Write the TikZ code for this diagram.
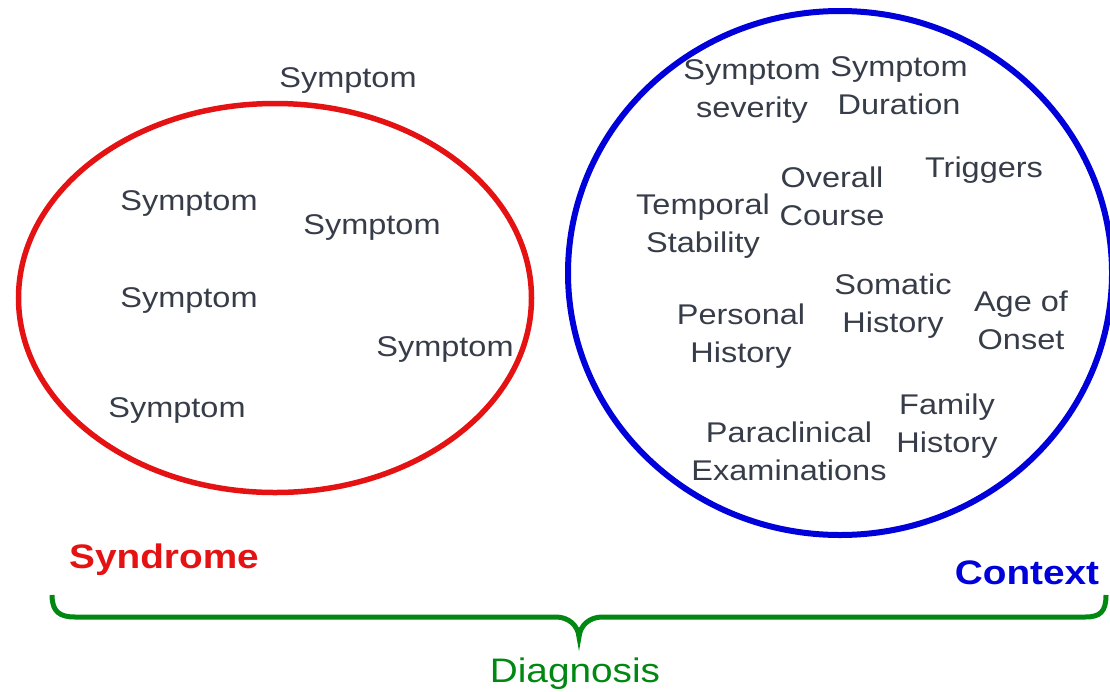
\documentclass[tikz,border=0pt]{standalone}
\usepackage{fontspec}
\usepackage{graphicx}
\setmainfont{Liberation Sans}
\usetikzlibrary{shapes.geometric}
\definecolor{txtgray}{RGB}{55,61,72}
\definecolor{synred}{RGB}{228,18,18}
\definecolor{ctxblue}{RGB}{0,0,218}
\definecolor{dxgreen}{RGB}{0,136,18}
\newcommand{\stx}[1]{\scalebox{1.14}[1]{\begin{tabular}{@{}c@{}}#1\end{tabular}}}
\tikzset{
  item/.style={inner sep=0pt, text=txtgray, font=\fontsize{28.5}{37.5}\selectfont},
  biglabel/.style={inner sep=0pt, font=\fontsize{34}{40.8}\selectfont},
  ring/.style={draw, ellipse, inner sep=0pt},
}
\begin{document}
\begin{tikzpicture}[x=1pt,y=-1pt]
\useasboundingbox (0,0) rectangle (1110,691);
% ellipses
\node[ring, draw=synred, line width=5.5pt, minimum width=513pt, minimum height=389pt] (syndrome) at (275,298) {};
\node[ring, draw=ctxblue, line width=6pt, minimum width=544pt, minimum height=524pt] (context) at (840,273) {};
% symptoms
\node[item] (s1) at (348,80) {\stx{Symptom}};
\node[item] (s2) at (189,203) {\stx{Symptom}};
\node[item] (s3) at (372,227) {\stx{Symptom}};
\node[item] (s4) at (189,300) {\stx{Symptom}};
\node[item] (s5) at (445,349) {\stx{Symptom}};
\node[item] (s6) at (177,410) {\stx{Symptom}};
% context items
\node[item] (sev) at (752,91) {\stx{Symptom\\severity}};
\node[item] (dur) at (899,88) {\stx{Symptom\\Duration}};
\node[item] (trig) at (984,170) {\stx{Triggers}};
\node[item] (course) at (832,199) {\stx{Overall\\Course}};
\node[item] (temp) at (703,226) {\stx{Temporal\\Stability}};
\node[item] (soma) at (893,306) {\stx{Somatic\\History}};
\node[item] (onset) at (1021,323) {\stx{Age of\\Onset}};
\node[item] (pers) at (741,336) {\stx{Personal\\History}};
\node[item] (fam) at (947,426) {\stx{Family\\History}};
\node[item] (para) at (789,454) {\stx{Paraclinical\\Examinations}};
% labels
\node[biglabel, text=synred] (synlabel) at (164,560) {\stx{\bfseries Syndrome}};
\node[biglabel, text=ctxblue] (ctxlabel) at (1027,576) {\stx{\bfseries Context}};
\node[biglabel, text=dxgreen] (dxlabel) at (575,674) {\stx{Diagnosis}};
% brace
\coordinate (bl) at (52,595);
\coordinate (br) at (1106,595);
\coordinate (tip) at (579,637);
\draw[dxgreen, line width=5pt]
  (bl) .. controls (52,612) and (60,617) .. (75,617) -- (556,617)
  .. controls (568,617) and (578,625) .. (tip)
  .. controls (580,625) and (590,617) .. (602,617) -- (1085,617)
  .. controls (1100,617) and (1106,612) .. (br);
\end{tikzpicture}
\end{document}
